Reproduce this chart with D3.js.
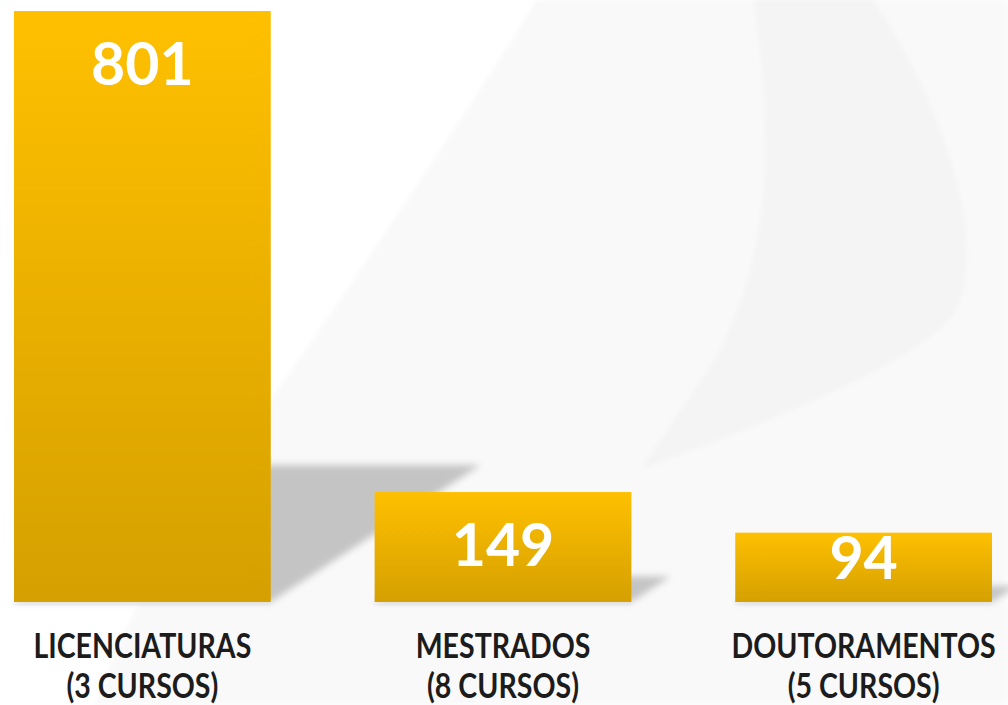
<!DOCTYPE html>
<html>
<head>
<meta charset="utf-8">
<script src="https://cdn.jsdelivr.net/npm/d3@7"></script>
<style>
  html, body { margin: 0; padding: 0; background: #ffffff; }
  svg { display: block; }
</style>
</head>
<body>
<svg id="chart" width="1008" height="705"></svg>
<script>
// ---- data ----
const categories = ["LICENCIATURAS", "MESTRADOS", "DOUTORAMENTOS"];
const subLabels = ["(3 CURSOS)", "(8 CURSOS)", "(5 CURSOS)"];
const values = [801, 149, 94];

const W = 1008, H = 705;
const svg = d3.select("#chart");
const defs = svg.append("defs");

// gradient for bars
const grad = defs.append("linearGradient").attr("id", "barGrad")
  .attr("x1", 0).attr("y1", 0).attr("x2", 0).attr("y2", 1);
grad.append("stop").attr("offset", "0%").attr("stop-color", "#FFC000");
grad.append("stop").attr("offset", "100%").attr("stop-color", "#D5A000");

defs.append("filter").attr("id", "blur").attr("x", "-20%").attr("y", "-20%").attr("width", "140%").attr("height", "140%")
  .append("feGaussianBlur").attr("stdDeviation", 3.5);
defs.append("filter").attr("id", "softBlur").attr("x", "-20%").attr("y", "-20%").attr("width", "140%").attr("height", "140%")
  .append("feGaussianBlur").attr("stdDeviation", 2);

// ---- background swooshes ----
const bg = svg.append("g");
bg.append("rect").attr("width", W).attr("height", H).attr("fill", "#ffffff");
bg.append("path")
  .attr("d", "M537,0 C430,170 300,360 200,500 C150,570 120,640 95,705 L1008,705 L1008,0 Z")
  .attr("fill", "#f9f9f9").attr("filter", "url(#softBlur)");
bg.append("path")
  .attr("d", "M753,0 C772,120 778,260 705,375 C680,410 660,440 640,470 C760,425 890,375 945,325 C995,275 955,120 873,0 Z")
  .attr("fill", "#f4f4f4").attr("filter", "url(#softBlur)");

// ---- scales ----
const x = d3.scaleBand().domain(categories).range([14, 992]).paddingInner(0.288).paddingOuter(0);
const y = d3.scaleLinear().domain([0, 801]).range([602, 11]);
const y0 = y(0);

// ---- shadows ----
const shadow = svg.append("g").attr("filter", "url(#blur)");
categories.forEach((c, i) => {
  const h = y0 - y(values[i]);
  const x0 = x(c), x1 = x(c) + x.bandwidth();
  const dx = 0.355 * h, dy = 0.232 * h;
  shadow.append("path")
    .attr("d", `M${x0},${y0} L${x0 + dx},${y0 - dy} L${x1 + dx},${y0 - dy} L${x1},${y0} Z`)
    .attr("fill", "#c4c4c4");
});
// faint line under bars
svg.append("g").selectAll("rect.under").data(categories).join("rect")
  .attr("x", d => x(d)).attr("y", y0).attr("width", x.bandwidth()).attr("height", 3)
  .attr("fill", "#e4e4e4").attr("filter", "url(#softBlur)");

// ---- bars ----
svg.append("g").selectAll("rect.bar").data(categories).join("rect")
  .attr("class", "bar")
  .attr("x", d => x(d))
  .attr("y", (d, i) => y(values[i]))
  .attr("width", x.bandwidth())
  .attr("height", (d, i) => y0 - y(values[i]))
  .attr("fill", "url(#barGrad)");

// ---- value labels ----
svg.append("g").selectAll("text.val").data(categories).join("text")
  .attr("class", "val")
  .attr("x", d => x(d) + x.bandwidth() / 2)
  .attr("y", (d, i) => Math.min(y(values[i]) + 74, y0 - 23))
  .attr("text-anchor", "middle")
  .attr("font-family", "Lato, 'Open Sans', sans-serif")
  .attr("font-weight", "bold")
  .attr("font-size", 59)
  .attr("fill", "#ffffff")
  .text((d, i) => values[i]);

// ---- category labels ----
const labG = svg.append("g").selectAll("g.cat").data(categories).join("g")
  .attr("class", "cat")
  .attr("transform", d => `translate(${x(d) + x.bandwidth() / 2},0) scale(0.84,1)`);
const lab = labG.append("text")
  .attr("text-anchor", "middle")
  .attr("font-family", "Lato, 'Open Sans', sans-serif")
  .attr("font-weight", "bold")
  .attr("font-size", 34)
  .attr("fill", "#1c1c1c");
lab.append("tspan").attr("x", 0).attr("y", 658).text(d => d);
lab.append("tspan").attr("x", 0).attr("y", 698).text((d, i) => subLabels[i]);
</script>
</body>
</html>
